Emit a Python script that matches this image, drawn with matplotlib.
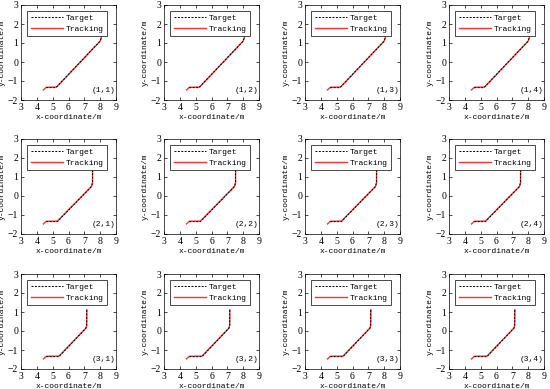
import matplotlib
matplotlib.use("Agg")
import matplotlib.pyplot as plt

# ---- data ----
panel_labels = [["(1,1)", "(1,2)", "(1,3)", "(1,4)"],
                ["(2,1)", "(2,2)", "(2,3)", "(2,4)"],
                ["(3,1)", "(3,2)", "(3,3)", "(3,4)"]]

target_x_row1 = [4.6, 5.2, 8.0, 8.08, 8.1]
target_y_row1 = [-1.35, -1.35, 1.1, 1.3, 1.9]
track_x_row1 = [4.42, 4.6, 5.25, 8.0, 8.08, 8.12]
track_y_row1 = [-1.47, -1.33, -1.32, 1.1, 1.3, 1.95]

target_x_row2 = [4.6, 5.3, 7.45, 7.52, 7.52]
target_y_row2 = [-1.35, -1.35, 0.5, 0.7, 1.45]
track_x_row2 = [4.42, 4.6, 5.3, 7.45, 7.52, 7.52]
track_y_row2 = [-1.47, -1.33, -1.32, 0.5, 0.7, 1.45]

target_x_row3 = [4.6, 5.4, 7.1, 7.15, 7.15]
target_y_row3 = [-1.35, -1.35, 0.15, 0.3, 1.1]
track_x_row3 = [4.42, 4.6, 5.4, 7.1, 7.15, 7.16]
track_y_row3 = [-1.47, -1.33, -1.32, 0.15, 0.3, 1.12]

x_ticks = [3, 4, 5, 6, 7, 8, 9]
y_ticks = [-2, -1, 0, 1, 2, 3]

targets = [(target_x_row1, target_y_row1), (target_x_row2, target_y_row2), (target_x_row3, target_y_row3)]
tracks = [(track_x_row1, track_y_row1), (track_x_row2, track_y_row2), (track_x_row3, track_y_row3)]

FONT = "Liberation Mono"
FS = 5.8
W, H = 550, 389
fig = plt.figure(figsize=(5.5, 3.89), dpi=100)

lefts = [21, 164, 305, 449]
tops = [5, 139, 274]
size = 95

for r in range(3):
    for c in range(4):
        ax = fig.add_axes([lefts[c] / W, 1 - (tops[r] + size) / H, size / W, size / H])
        tx, ty = targets[r]
        kx, ky = tracks[r]
        l2, = ax.plot(kx, ky, color="#ff3030", lw=1.0, label="Tracking")
        l1, = ax.plot(tx, ty, color="black", lw=0.7, ls=(0, (2, 1.5)), label="Target")
        ax.set_xlim(3, 9)
        ax.set_ylim(-2, 3)
        ax.set_xticks(x_ticks)
        ax.set_yticks(y_ticks)
        ax.tick_params(direction="in", top=True, right=True, length=2, width=0.5,
                       labelsize=7, pad=2)
        for lab in ax.get_xticklabels() + ax.get_yticklabels():
            lab.set_fontfamily("Liberation Serif")
        for s in ax.spines.values():
            s.set_linewidth(0.5)
        ax.set_xlabel("x-coordinate/m", fontsize=FS, family=FONT, labelpad=1.5)
        ax.set_ylabel("y-coordinate/m", fontsize=FS, family=FONT, labelpad=1.5)
        ax.text(8.2, -1.5, panel_labels[r][c], fontsize=FS, family=FONT,
                ha="center", va="center")
        leg = ax.legend([l1, l2], ["Target", "Tracking"], loc="upper left",
                        prop={"family": FONT, "size": FS}, fancybox=False,
                        edgecolor="black", framealpha=1, borderpad=0.4,
                        handlelength=4.0, handletextpad=0.4, labelspacing=0.4,
                        borderaxespad=0.8)
        leg.get_frame().set_linewidth(0.5)

fig.savefig("out.png", dpi=100)
